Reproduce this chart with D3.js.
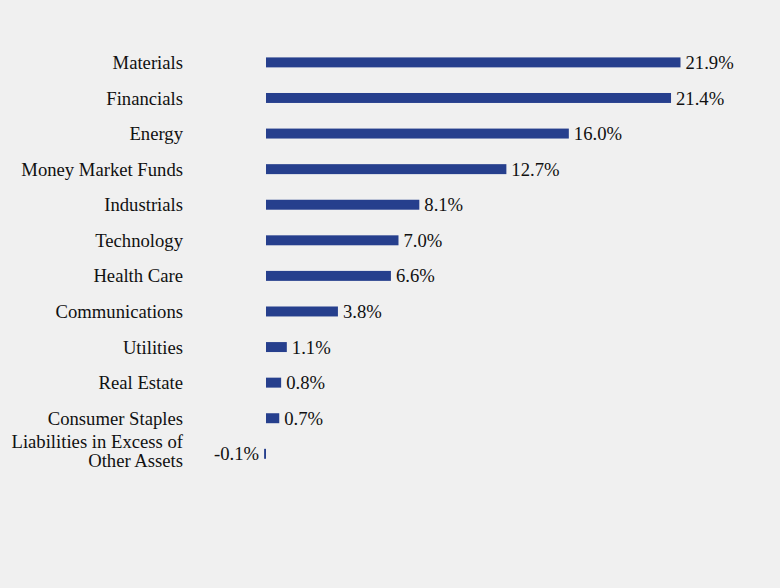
<!DOCTYPE html>
<html>
<head>
<meta charset="utf-8">
<script src="https://cdn.jsdelivr.net/npm/d3@7"></script>
<style>
  html, body { margin: 0; padding: 0; background: #f0f0f0; }
  svg { display: block; }
</style>
</head>
<body>
<div id="chart"></div>
<script>
var sectors = ['Materials', 'Financials', 'Energy', 'Money Market Funds', 'Industrials',
  'Technology', 'Health Care', 'Communications', 'Utilities', 'Real Estate',
  'Consumer Staples', 'Liabilities in Excess of\nOther Assets']
var weights = [21.9, 21.4, 16.0, 12.7, 8.1, 7.0, 6.6, 3.8, 1.1, 0.8, 0.7, -0.1]

var width = 780, height = 588
var font = "'Liberation Serif', 'Times New Roman', serif"
var fontSize = '18.67px'

var svg = d3.select('#chart').append('svg')
  .attr('width', width)
  .attr('height', height)
  .style('font-family', font)

svg.append('rect').attr('width', width).attr('height', height).attr('fill', '#f0f0f0')

// x: zero sits at 266, 21.9% ends near 680
var x = d3.scaleLinear()
  .domain([0, 21.9])
  .range([266, 680.5])

var y = d3.scaleBand()
  .domain(sectors)
  .range([44.6, 471.6])
  .paddingInner(0.72)
  .paddingOuter(0.36)

// category labels
svg.append('g')
  .selectAll('text')
  .data(sectors)
  .enter()
  .append('text')
  .attr('text-anchor', 'end')
  .style('font-size', fontSize)
  .attr('fill', '#111')
  .each(function(d) {
    var lines = d.split('\n')
    var cy = y(d) + y.bandwidth() / 2 - (lines.length > 1 ? 3 : 0)
    var t = d3.select(this)
    lines.forEach(function(line, i) {
      t.append('tspan')
        .attr('x', 183)
        .attr('y', cy + (i - (lines.length - 1) / 2) * 19.5)
        .attr('dy', '0.35em')
        .text(line)
    })
  })

// bars
svg.append('g')
  .selectAll('rect')
  .data(weights)
  .enter()
  .append('rect')
  .attr('x', function(d) { return x(Math.min(0, d)) })
  .attr('y', function(d, i) { return y(sectors[i]) })
  .attr('width', function(d) { return Math.abs(x(d) - x(0)) })
  .attr('height', y.bandwidth())
  .attr('fill', '#263f8d')

// value labels
svg.append('g')
  .selectAll('text')
  .data(weights)
  .enter()
  .append('text')
  .style('font-size', fontSize)
  .attr('fill', '#111')
  .attr('text-anchor', function(d) { return d < 0 ? 'end' : 'start' })
  .attr('x', function(d) { return d < 0 ? x(d) - 5 : x(d) + 5 })
  .attr('y', function(d, i) { return y(sectors[i]) + y.bandwidth() / 2 })
  .attr('dy', '0.35em')
  .text(function(d) { return d.toFixed(1) + '%' })
</script>
</body>
</html>
